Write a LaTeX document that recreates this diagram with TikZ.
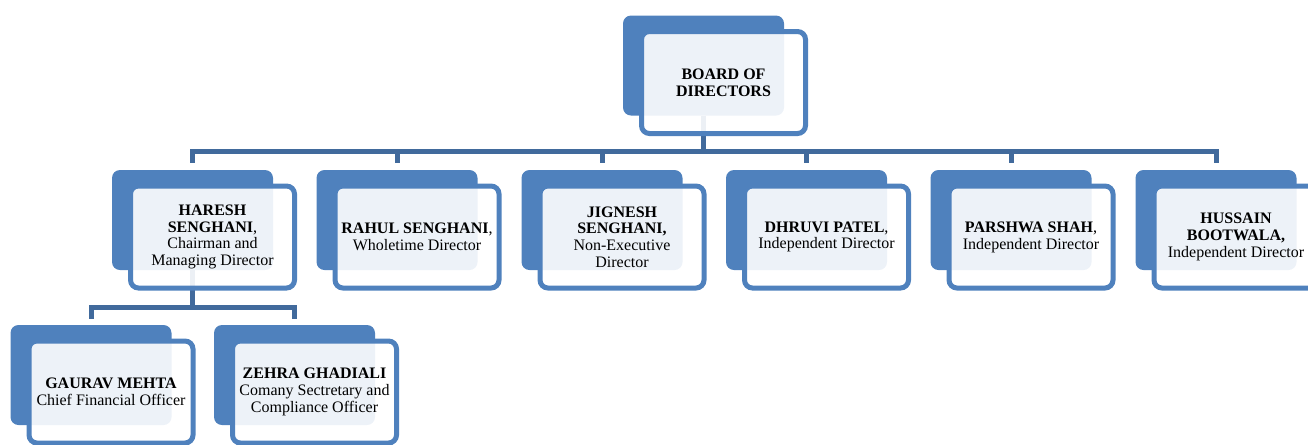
\documentclass[tikz,border=0pt]{standalone}
\usepackage{fontspec}
\setmainfont{Liberation Serif}
\definecolor{boxblue}{HTML}{4F81BD}
\definecolor{linkblue}{HTML}{416A9C}
\tikzset{
  backbox/.style={fill=boxblue, rounded corners=6pt, minimum width=120.75pt, minimum height=75pt, inner sep=0pt},
  frontbox/.style={draw=boxblue, line width=3.75pt, fill=white, fill opacity=0.9, text opacity=1, rounded corners=6pt,
    minimum width=123pt, minimum height=76.5pt, inner sep=0pt, align=center, font=\fontsize{12}{12.6}\selectfont},
  link/.style={draw=linkblue, line width=3.75pt}
}
\begin{document}
\begin{tikzpicture}[x=0.75pt, y=-0.75pt]
  \clip (0,0) rectangle (1308,444);

  % back boxes
  \node[backbox] at (703.5, 65.5) (board)   {};
  \node[backbox] at (192.5, 220)  (haresh)  {};
  \node[backbox] at (397,   220)  (rahul)   {};
  \node[backbox] at (602,   220)  (jignesh) {};
  \node[backbox] at (806.5, 220)  (dhruvi)  {};
  \node[backbox] at (1011,  220)  (parshwa) {};
  \node[backbox] at (1216,  220)  (hussain) {};
  \node[backbox] at (91,    375)  (gaurav)  {};
  \node[backbox] at (294.5, 375)  (zehra)   {};

  % connectors
  \foreach \who in {haresh, rahul, jignesh, dhruvi, parshwa, hussain}
    \draw[link, shorten >=5.25pt] (board.south) -- ++(0,35.5) -| (\who.north);
  \foreach \who in {gaurav, zehra}
    \draw[link, shorten >=4.5pt] (haresh.south) -- ++(0,37) -| (\who.north);

  % front boxes with the texts
  \node[frontbox] at ([shift={(20,17)}]board.center)   (board-t)   {\textbf{BOARD OF}\\\textbf{DIRECTORS}};
  \node[frontbox] at ([shift={(20,17)}]haresh.center)  (haresh-t)  {\textbf{HARESH}\\\textbf{SENGHANI},\\Chairman and\\Managing Director};
  \node[frontbox] at ([shift={(20,17)}]rahul.center)   (rahul-t)   {\textbf{RAHUL SENGHANI},\\Wholetime Director};
  \node[frontbox] at ([shift={(20,17)}]jignesh.center) (jignesh-t) {\textbf{JIGNESH}\\\textbf{SENGHANI,}\\Non-Executive\\Director};
  \node[frontbox] at ([shift={(20,17)}]dhruvi.center)  (dhruvi-t)  {\textbf{DHRUVI PATEL},\\Independent Director};
  \node[frontbox] at ([shift={(20,17)}]parshwa.center) (parshwa-t) {\textbf{PARSHWA SHAH},\\Independent Director};
  \node[frontbox] at ([shift={(20,17)}]hussain.center) (hussain-t) {\textbf{HUSSAIN}\\\textbf{BOOTWALA,}\\Independent Director};
  \node[frontbox] at ([shift={(20,17)}]gaurav.center)  (gaurav-t)  {\textbf{GAURAV MEHTA}\\Chief Financial Officer};
  \node[frontbox] at ([shift={(20,17)}]zehra.center)   (zehra-t)   {\textbf{ZEHRA GHADIALI}\\Comany Sectretary and\\Compliance Officer};
\end{tikzpicture}
\end{document}
